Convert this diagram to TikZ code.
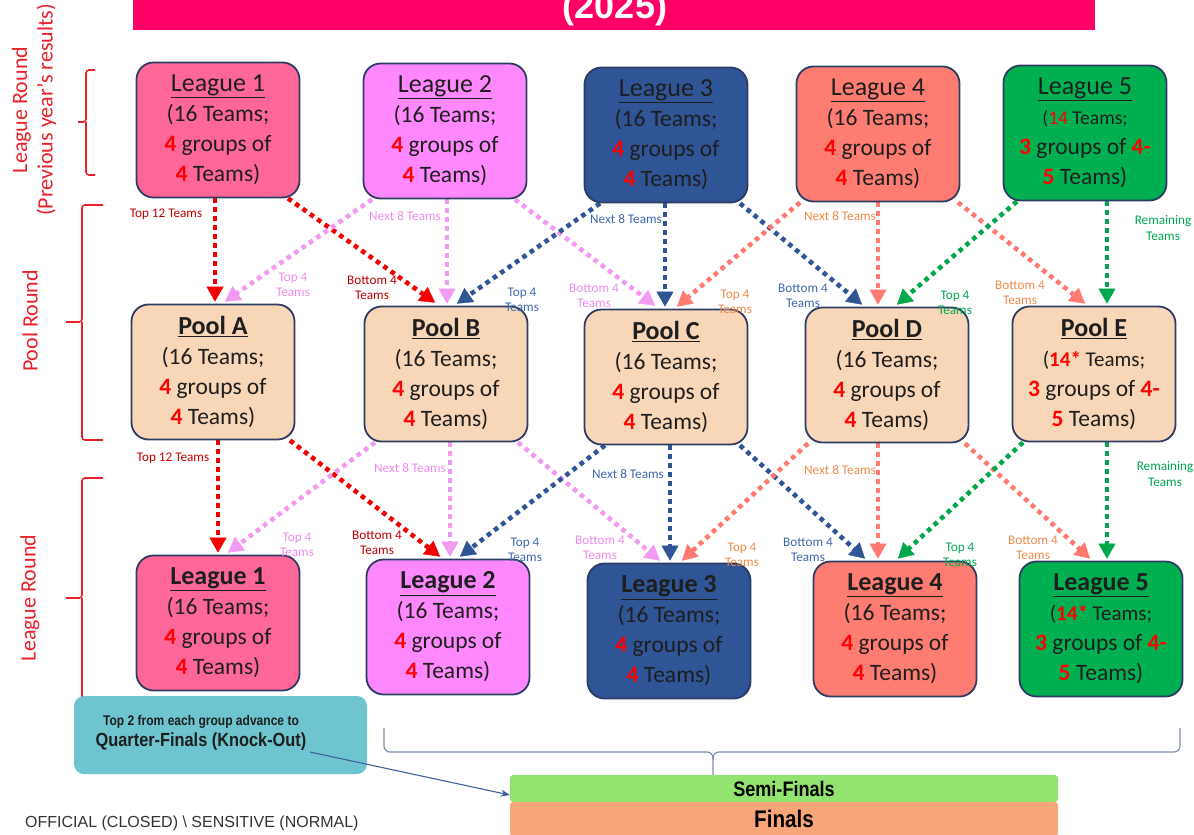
\documentclass[tikz,border=0pt]{standalone}
\usepackage{fontspec}
\setmainfont{Carlito}
\newfontfamily\arialf{Liberation Sans}
\newfontfamily\arialn[FakeStretch=0.86]{Liberation Sans}
\usetikzlibrary{arrows.meta,calc,backgrounds}
\definecolor{banner}{HTML}{FF0066}
\definecolor{boxline}{HTML}{2E3B63}
\definecolor{txt}{HTML}{1E1E1E}
\definecolor{numred}{HTML}{FF0000}
\definecolor{fL1}{HTML}{FF6699}
\definecolor{fL2}{HTML}{FF88FF}
\definecolor{fL3}{HTML}{2F5597}
\definecolor{fL4}{HTML}{FF7C72}
\definecolor{fL5}{HTML}{00B050}
\definecolor{fPool}{HTML}{F8D6B8}
\definecolor{a1}{HTML}{F20000}
\definecolor{a2}{HTML}{F29AF2}
\definecolor{a3}{HTML}{2F5597}
\definecolor{a4}{HTML}{FF7B72}
\definecolor{a5}{HTML}{00A84C}
\definecolor{l1}{HTML}{C00000}
\definecolor{l2}{HTML}{EE8CEE}
\definecolor{l3}{HTML}{4068AE}
\definecolor{l4}{HTML}{EE8A48}
\definecolor{l5}{HTML}{00A850}
\definecolor{bracered}{HTML}{E8202A}
\definecolor{bbr}{HTML}{7E8FB2}
\definecolor{qfcol}{HTML}{6EC5CF}
\definecolor{semicol}{HTML}{92E36F}
\definecolor{fincol}{HTML}{F9A57B}
\definecolor{qfarr}{HTML}{3F5F9F}
\definecolor{offc}{HTML}{333333}
\newcommand{\rn}[1]{\textcolor{numred}{\textbf{#1}}}
\newcommand{\ttl}[1]{{\fontsize{26}{30}\selectfont #1}}
\newcommand{\stdbody}{(16 Teams;\\\rn{4} groups of\\\rn{4} Teams)}
\newcommand{\fivebody}[1]{\fontsize{21}{27}\selectfont(#1 Teams;\\\rn{3} groups of \rn{4-}\\\rn{5} Teams)}
\newcommand{\fivetop}{\fontsize{19.5}{26.5}\selectfont(\textcolor{numred}{14} Teams;\\\rn{3} groups of \rn{4-}\\\rn{5} Teams)}
\tikzset{
  box/.style={draw=boxline, line width=1.8pt, rounded corners=17pt, minimum width=163pt,
    minimum height=135pt, inner sep=0pt, align=center, text=txt,
    font=\fontsize{23.5}{30}\selectfont},
  flow/.style={line width=4.6pt, dash pattern=on 4.6pt off 4.4pt,
    -{Triangle[length=15pt,width=17pt,line width=0.4pt]}},
  lab/.style={font=\fontsize{13.2}{15.5}\selectfont, align=center, inner sep=1pt},
  rbrace/.style={draw=bracered, line width=1.6pt, rounded corners=3pt},
  side/.style={text=bracered, rotate=90, align=center, font=\fontsize{22}{25.5}\selectfont},
}
\begin{document}
\begin{tikzpicture}[x=1pt,y=-1pt]
\clip (0,0) rectangle (1194,835);
\useasboundingbox (0,0) rectangle (1194,835);

% banner
\fill[banner] (133,-10) rectangle (1095,30);
\node[anchor=base, text=white, font=\arialf\bfseries\fontsize{36}{40}\selectfont] (title) at (615,19) {(2025)};

% side labels
\node[side] (s1) at (34,110) {League Round\\(Previous year’s results)};
\node[side] (s2) at (30,321) {Pool Round};
\node[side] (s3) at (30,598) {League Round};
\draw[rbrace] (95,70) -- (86,70) -- (86,122) -- (78,122);
\draw[rbrace] (86,122) -- (86,175) -- (95,175);
\draw[rbrace] (103,205) -- (82,205) -- (82,322) -- (66,322);
\draw[rbrace] (82,322) -- (82,440) -- (103,440);
\draw[rbrace] (103,478) -- (82,478) -- (82,598) -- (66,598);
\draw[rbrace] (82,598) -- (82,715) -- (103,715);

% top league row
\node[box, fill=fL1] (L1t) at (218,130) {\ttl{\underline{League 1}}\\\stdbody};
\node[box, fill=fL2] (L2t) at (445,131) {\ttl{\underline{League 2}}\\\stdbody};
\node[box, fill=fL3] (L3t) at (666,135) {\ttl{\underline{League 3}}\\\stdbody};
\node[box, fill=fL4] (L4t) at (878,134) {\ttl{\underline{League 4}}\\\stdbody};
\node[box, fill=fL5] (L5t) at (1085,133) {\ttl{\underline{League 5}}\\\fivetop};

% pool row
\node[box, fill=fPool] (PA) at (213,372) {\ttl{\textbf{\underline{Pool A}}}\\\stdbody};
\node[box, fill=fPool] (PB) at (446,374) {\ttl{\textbf{\underline{Pool B}}}\\\stdbody};
\node[box, fill=fPool] (PC) at (666,377) {\ttl{\textbf{\underline{Pool C}}}\\\stdbody};
\node[box, fill=fPool] (PD) at (887,375) {\ttl{\textbf{\underline{Pool D}}}\\\stdbody};
\node[box, fill=fPool] (PE) at (1094,374) {\ttl{\textbf{\underline{Pool E}}}\\\fivebody{\rn{14*}}};

% bottom league row
\node[box, fill=fL1] (L1b) at (218,623) {\ttl{\textbf{\underline{League 1}}}\\\stdbody};
\node[box, fill=fL2] (L2b) at (448,627) {\ttl{\textbf{\underline{League 2}}}\\\stdbody};
\node[box, fill=fL3] (L3b) at (669,631) {\ttl{\textbf{\underline{League 3}}}\\\stdbody};
\node[box, fill=fL4] (L4b) at (895,629) {\ttl{\textbf{\underline{League 4}}}\\\stdbody};
\node[box, fill=fL5] (L5b) at (1101,629) {\ttl{\textbf{\underline{League 5}}}\\\fivebody{\rn{14*}}};

% arrows
\begin{pgfonlayer}{background}
% top -> pool
\draw[flow, a1] ([xshift=-3pt]L1t.south) -- ([xshift=2pt,yshift=2pt]PA.north);
\draw[flow, a1] ([xshift=70pt]L1t.south) -- ([xshift=-11pt,yshift=3pt]PB.north);
\draw[flow, a2] ([xshift=-73pt]L2t.south) -- ([xshift=12pt,yshift=2pt]PA.north);
\draw[flow, a2] ([xshift=2pt]L2t.south) -- ([xshift=1pt,yshift=2pt]PB.north);
\draw[flow, a2] ([xshift=70pt]L2t.south) -- ([xshift=-11pt,yshift=3pt]PC.north);
\draw[flow, a3] ([xshift=-66pt]L3t.south) -- ([xshift=11pt,yshift=2pt]PB.north);
\draw[flow, a3] ([xshift=-1pt]L3t.south) -- ([xshift=-1pt,yshift=2pt]PC.north);
\draw[flow, a3] ([xshift=74pt]L3t.south) -- ([xshift=-25pt,yshift=2pt]PD.north);
\draw[flow, a4] ([xshift=-78pt]L4t.south) -- ([xshift=11pt,yshift=2pt]PC.north);
\draw[flow, a4] ([xshift=0pt]L4t.south) -- ([xshift=-9pt,yshift=2pt]PD.north);
\draw[flow, a4] ([xshift=80pt]L4t.south) -- ([xshift=-9pt,yshift=2pt]PE.north);
\draw[flow, a5] ([xshift=-68pt]L5t.south) -- ([xshift=10pt,yshift=2pt]PD.north);
\draw[flow, a5] ([xshift=22pt]L5t.south) -- ([xshift=13pt,yshift=2pt]PE.north);
% pool -> bottom
\draw[flow, a1] ([xshift=5pt]PA.south) -- ([xshift=0pt,yshift=2pt]L1b.north);
\draw[flow, a1] ([xshift=77pt]PA.south) -- ([xshift=-8pt,yshift=2pt]L2b.north);
\draw[flow, a2] ([xshift=-71pt]PB.south) -- ([xshift=10pt,yshift=2pt]L1b.north);
\draw[flow, a2] ([xshift=4pt]PB.south) -- ([xshift=2pt,yshift=2pt]L2b.north);
\draw[flow, a2] ([xshift=72pt]PB.south) -- ([xshift=-9pt,yshift=2pt]L3b.north);
\draw[flow, a3] ([xshift=-61pt]PC.south) -- ([xshift=12pt,yshift=2pt]L2b.north);
\draw[flow, a3] ([xshift=4pt]PC.south) -- ([xshift=1pt,yshift=2pt]L3b.north);
\draw[flow, a3] ([xshift=74pt]PC.south) -- ([xshift=-30pt,yshift=2pt]L4b.north);
\draw[flow, a4] ([xshift=-79pt]PD.south) -- ([xshift=13pt,yshift=2pt]L3b.north);
\draw[flow, a4] ([xshift=-9pt]PD.south) -- ([xshift=-17pt,yshift=2pt]L4b.north);
\draw[flow, a4] ([xshift=78pt]PD.south) -- ([xshift=-11pt,yshift=2pt]L5b.north);
\draw[flow, a5] ([xshift=-71pt]PE.south) -- ([xshift=3pt,yshift=2pt]L4b.north);
\draw[flow, a5] ([xshift=13pt]PE.south) -- ([xshift=6pt,yshift=2pt]L5b.north);
\end{pgfonlayer}

% arrow labels top -> pool
\node[lab, text=l1] (t1) at (166,214) {Top 12 Teams};
\node[lab, text=l1] (t2) at (372,288) {Bottom 4\\Teams};
\node[lab, text=l2] (t3) at (405,216) {Next 8 Teams};
\node[lab, text=l2] (t4) at (293,285) {Top 4\\Teams};
\node[lab, text=l2] (t5) at (594,296) {Bottom 4\\Teams};
\node[lab, text=l3] (t6) at (626,219) {Next 8 Teams};
\node[lab, text=l3] (t7) at (522,300) {Top 4\\Teams};
\node[lab, text=l3] (t8) at (803,296) {Bottom 4\\Teams};
\node[lab, text=l4] (t9) at (840,216) {Next 8 Teams};
\node[lab, text=l4] (t10) at (735,302) {Top 4\\Teams};
\node[lab, text=l4] (t11) at (1020,293) {Bottom 4\\Teams};
\node[lab, text=l5] (t12) at (955,303) {Top 4\\Teams};
\node[lab, text=l5] (t13) at (1163,228) {Remaining\\Teams};
% arrow labels pool -> bottom
\node[lab, text=l1] (b1) at (173,458) {Top 12 Teams};
\node[lab, text=l1] (b2) at (377,543) {Bottom 4\\Teams};
\node[lab, text=l2] (b3) at (297,545) {Top 4\\Teams};
\node[lab, text=l2] (b4) at (410,468) {Next 8 Teams};
\node[lab, text=l2] (b5) at (600,548) {Bottom 4\\Teams};
\node[lab, text=l3] (b6) at (525,550) {Top 4\\Teams};
\node[lab, text=l3] (b7) at (628,474) {Next 8 Teams};
\node[lab, text=l3] (b8) at (808,550) {Bottom 4\\Teams};
\node[lab, text=l4] (b9) at (742,555) {Top 4\\Teams};
\node[lab, text=l4] (b10) at (840,470) {Next 8 Teams};
\node[lab, text=l4] (b11) at (1033,548) {Bottom 4\\Teams};
\node[lab, text=l5] (b12) at (960,555) {Top 4\\Teams};
\node[lab, text=l5] (b13) at (1165,474) {Remaining\\Teams};

% bottom brace
\draw[bbr, line width=1.2pt, rounded corners=6pt] (384,728) -- (384,752) -- (713,752) -- (713,776);
\draw[bbr, line width=1.2pt, rounded corners=6pt] (713,760) -- (713,752) -- (1180,752) -- (1180,728);

% quarter finals
\node[fill=qfcol, rounded corners=10pt, minimum width=293pt, minimum height=78pt] (qf) at (220.5,735) {};
\node[align=center, text=txt, inner sep=0pt] (qftext) at (201,733)
  {{\arialn\bfseries\fontsize{14}{16}\selectfont Top 2 from each group advance to}\\[4pt]
   {\arialn\bfseries\fontsize{19}{21}\selectfont Quarter-Finals (Knock-Out)}};

% semi-finals and finals
\node[fill=semicol, rounded corners=3pt, minimum width=548pt, minimum height=27pt, inner sep=0pt,
  text=black, font=\arialn\bfseries\fontsize{21}{23}\selectfont] (semi) at (784,788.5) {Semi-Finals};
\node[fill=fincol, rounded corners=3pt, minimum width=548pt, minimum height=34pt, inner sep=0pt,
  text=black, font=\arialn\bfseries\fontsize{24}{26}\selectfont] (finals) at (784,819) {Finals};
\coordinate (qfa) at (310,752);
\draw[qfarr, line width=1.1pt, -{Stealth[length=9pt,width=7pt]}] (qfa) -- ([yshift=-6.5pt]semi.west);

\node[anchor=west, text=offc, font=\arialf\fontsize{16}{18}\selectfont, inner sep=0pt] (off) at (25,823)
  {OFFICIAL (CLOSED) \textbackslash{} SENSITIVE (NORMAL)};
\end{tikzpicture}
\end{document}
